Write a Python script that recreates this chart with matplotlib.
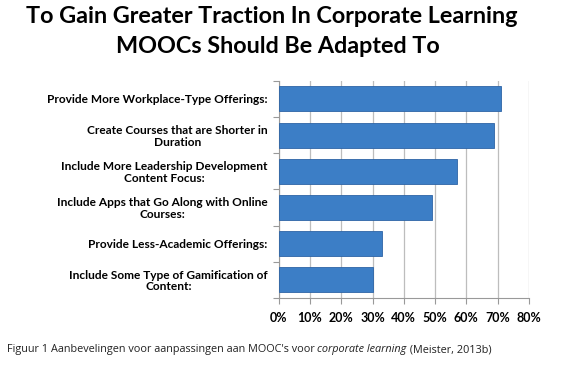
import matplotlib.pyplot as plt
import numpy as np

# data (top to bottom)
labels = [
    "Provide More Workplace-Type Offerings:",
    "Create Courses that are Shorter in\nDuration",
    "Include More Leadership Development\nContent Focus:",
    "Include Apps that Go Along with Online\nCourses:",
    "Provide Less-Academic Offerings:",
    "Include Some Type of Gamification of\nContent:",
]
values = [71, 69, 57, 49, 33, 30]
xticks = [0, 10, 20, 30, 40, 50, 60, 70, 80]

fig = plt.figure(figsize=(5.62, 3.66), dpi=100)
ax = fig.add_axes([0.496, 0.186, 0.445, 0.593])

y = np.arange(len(values))[::-1]
ax.barh(y, values, height=0.69, color="#3c7ec6", edgecolor="#2d64a6", linewidth=0.6, zorder=3)

ax.set_xlim(0, 80)
ax.set_ylim(-0.5, len(values) - 0.5)
ax.set_xticks(xticks)
ax.set_xticklabels([f"{t}%" for t in xticks], fontsize=9, fontweight="bold", family="Lato")
ax.grid(axis="x", color="#bdbdbd", linewidth=0.9, zorder=0)

# category boundaries as major ticks, labels on minor ticks
ax.set_yticks(np.arange(-0.5, len(values), 1.0))
ax.set_yticklabels([])
ax.set_yticks(y, minor=True)
ax.set_yticklabels(labels, minor=True, fontsize=8.6, fontweight="bold",
                   family="Lato", multialignment="center", linespacing=1.05)
ax.tick_params(axis="y", which="minor", length=0, pad=8)
ax.tick_params(axis="y", which="major", length=4, color="#999999")
ax.tick_params(axis="x", length=4, color="#999999", pad=6)

for s in ["top", "right"]:
    ax.spines[s].set_visible(False)
for s in ["left", "bottom"]:
    ax.spines[s].set_color("#999999")

fig.text(0.483, 0.954, "To Gain Greater Traction In Corporate Learning",
         ha="center", va="center", fontsize=16.8, fontweight="bold", family="Lato")
fig.text(0.494, 0.872, "MOOCs Should Be Adapted To",
         ha="center", va="center", fontsize=16.8, fontweight="bold", family="Lato")

fig.text(0.012, 0.044, "Figuur 1 Aanbevelingen voor aanpassingen aan MOOC's voor ",
         fontsize=7.8, family="Open Sans", color="#222222", va="center")
fig.canvas.draw()
r = fig.canvas.get_renderer()
t1 = fig.texts[-1]
x1 = t1.get_window_extent(r).x1 / fig.bbox.width
t2 = fig.text(x1, 0.044, "corporate learning", fontsize=7.8, family="Open Sans",
              style="italic", color="#222222", va="center")
x2 = t2.get_window_extent(r).x1 / fig.bbox.width
fig.text(x2, 0.044, " (Meister, 2013b)", fontsize=7.8, family="Open Sans",
         color="#222222", va="center")

fig.savefig("out.png", dpi=100)
